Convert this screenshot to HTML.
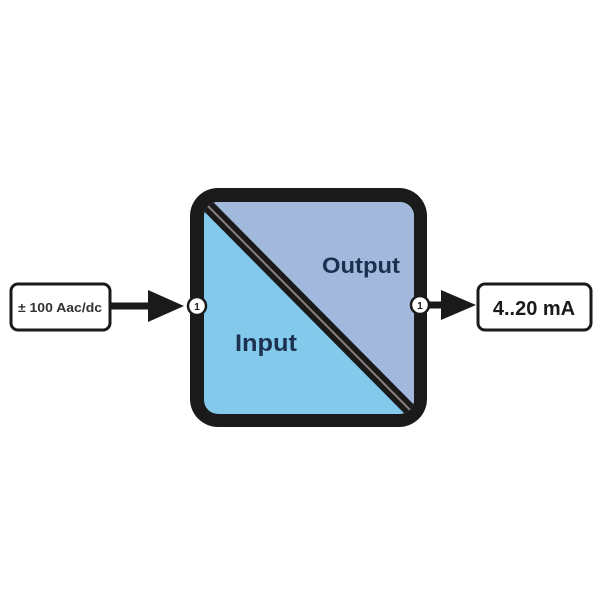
<!DOCTYPE html>
<html><head><style>body{margin:0;background:#fff}</style></head><body>
<svg width="600" height="600" viewBox="0 0 600 600" xmlns="http://www.w3.org/2000/svg">
<rect width="600" height="600" fill="#fff"/>
<defs><clipPath id="c"><rect x="204" y="202" width="210" height="212" rx="14"/></clipPath></defs>
<rect x="190" y="188" width="237" height="239" rx="28" fill="#1a1a1a"/>
<g clip-path="url(#c)">
<rect x="204" y="202" width="210" height="212" fill="#83c9ec"/>
<polygon points="204,202 414,202 414,414" fill="#a3b8dd"/>
<line x1="200" y1="198" x2="418" y2="418" stroke="#1a1a1a" stroke-width="13"/>
<line x1="200" y1="198" x2="418" y2="418" stroke="#8a7f7c" stroke-width="2"/>
</g>
<text x="322" y="273" font-family="Liberation Sans, sans-serif" font-weight="bold" font-size="22" fill="#1c3050" textLength="78" lengthAdjust="spacingAndGlyphs">Output</text>
<text x="235" y="351" font-family="Liberation Sans, sans-serif" font-weight="bold" font-size="24" fill="#1c3050" textLength="62" lengthAdjust="spacingAndGlyphs">Input</text>
<rect x="11" y="284" width="99" height="46" rx="7" fill="#fff" stroke="#1a1a1a" stroke-width="3"/>
<text x="60" y="312" text-anchor="middle" font-family="Liberation Sans, sans-serif" font-weight="bold" font-size="13" fill="#333" textLength="84" lengthAdjust="spacingAndGlyphs">± 100 Aac/dc</text>
<line x1="110" y1="306" x2="152" y2="306" stroke="#1a1a1a" stroke-width="7"/>
<polygon points="148,290 184,306 148,322" fill="#1a1a1a"/>
<circle cx="197" cy="306" r="9" fill="#fff" stroke="#1a1a1a" stroke-width="2.5"/>
<text x="197" y="310" text-anchor="middle" font-family="Liberation Sans, sans-serif" font-weight="bold" font-size="10" fill="#1a1a1a">1</text>
<line x1="428" y1="305" x2="445" y2="305" stroke="#1a1a1a" stroke-width="7"/>
<polygon points="441,290 476,305 441,320" fill="#1a1a1a"/>
<circle cx="420" cy="305" r="9" fill="#fff" stroke="#1a1a1a" stroke-width="2.5"/>
<text x="420" y="309" text-anchor="middle" font-family="Liberation Sans, sans-serif" font-weight="bold" font-size="10" fill="#1a1a1a">1</text>
<rect x="478" y="284" width="113" height="46" rx="7" fill="#fff" stroke="#1a1a1a" stroke-width="3"/>
<text x="534" y="315" text-anchor="middle" font-family="Liberation Sans, sans-serif" font-weight="bold" font-size="20" fill="#1a1a1a">4..20 mA</text>
</svg>
</body></html>
